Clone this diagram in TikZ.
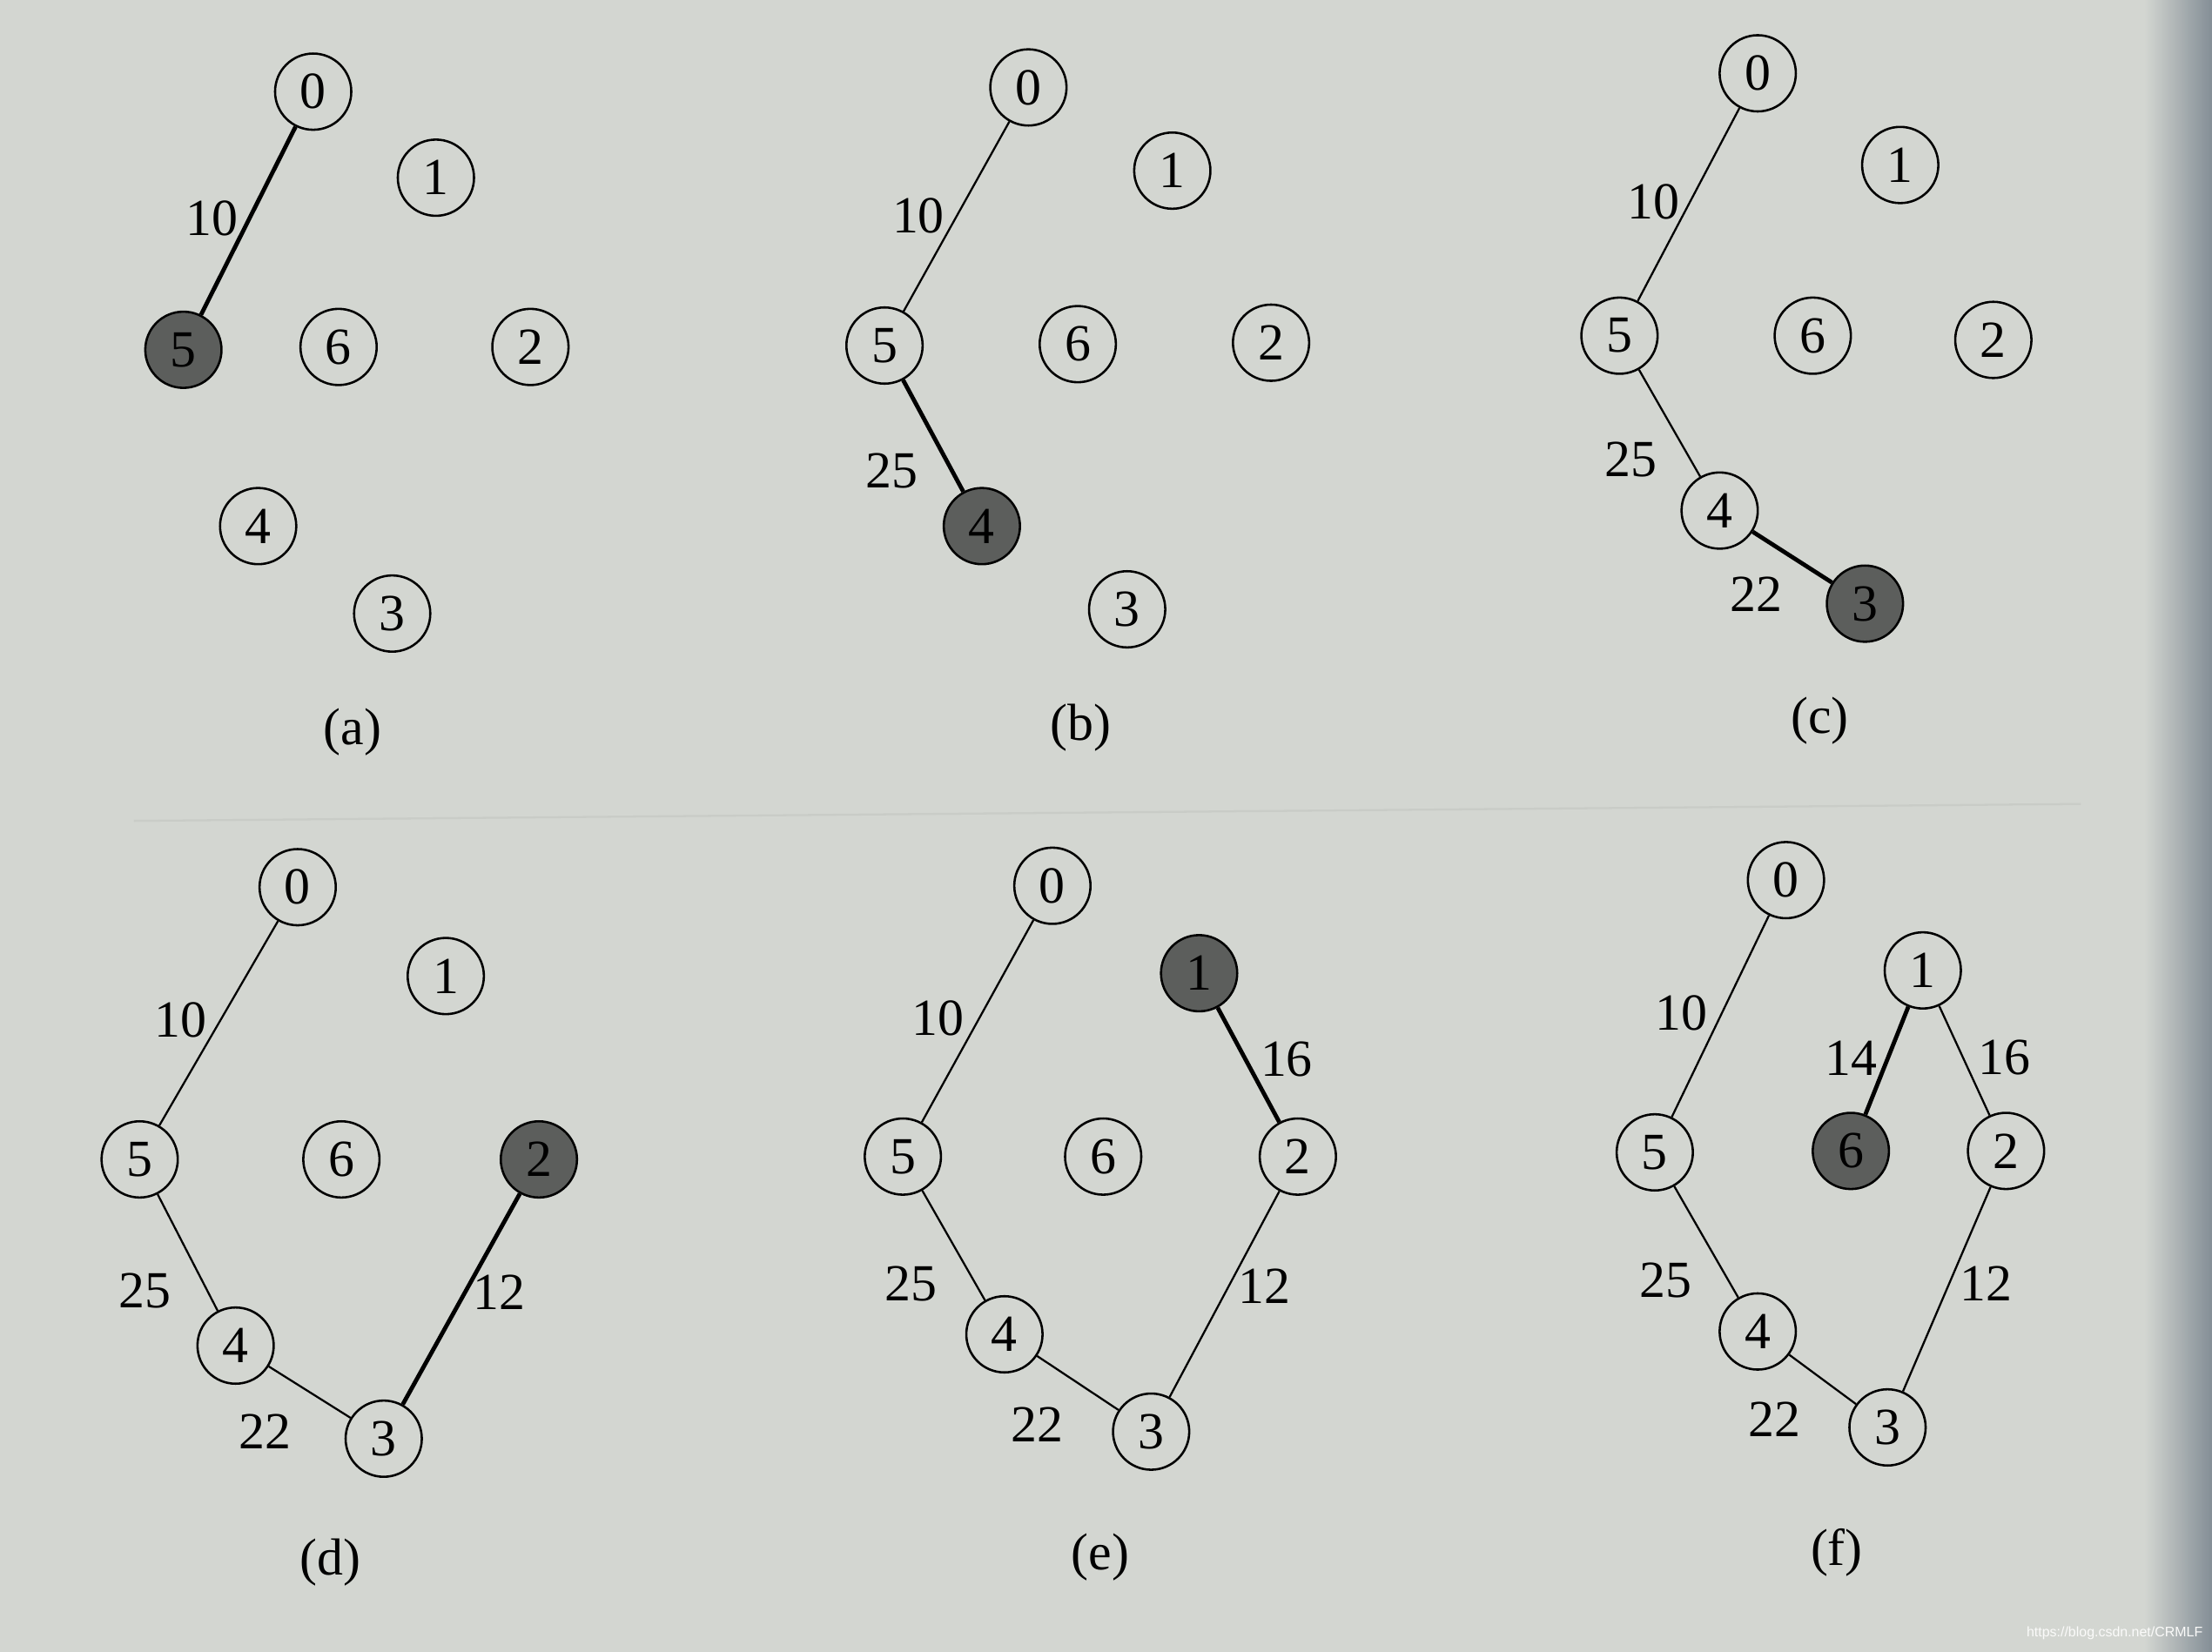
\documentclass[tikz,border=0pt]{standalone}
\usepackage{fontspec}
\setmainfont{Liberation Serif}
\newfontfamily\wmfont{Liberation Sans}
\definecolor{paper}{RGB}{211,214,209}
\definecolor{pageedge}{RGB}{132,142,150}
\definecolor{stipple}{RGB}{92,94,92}
\definecolor{bleed}{RGB}{201,204,199}
\begin{document}
\begin{tikzpicture}[x=0.01cm,y=-0.01cm,
		vtx/.style={circle,draw,line width=0.45pt,minimum size=0.54cm,inner sep=0pt,font=\fontsize{10.5}{12}\selectfont},
		cur/.style={vtx,fill=stipple},
		tedge/.style={line width=0.4pt},
		newedge/.style={line width=0.85pt},
		wt/.style={inner sep=0pt,font=\fontsize{10.5}{12}\selectfont},
		stepcap/.style={inner sep=0pt,font=\fontsize{10.5}{12}\selectfont}]
	% giay nen
	\fill[paper] (0,0) rectangle (1568,1171);
	\shade[left color=paper,right color=pageedge] (1520,0) rectangle (1568,1171);
	\useasboundingbox (0,0) rectangle (1568,1171);
	\draw[bleed,line width=0.4pt] (95,582) -- (1475,570);
	% (a)
	\node[vtx] (a0) at (222,65) {0};
	\node[vtx] (a1) at (309,126) {1};
	\node[vtx] (a2) at (376,246) {2};
	\node[vtx] (a3) at (278,435) {3};
	\node[vtx] (a4) at (183,373) {4};
	\node[cur] (a5) at (130,248) {5};
	\node[vtx] (a6) at (240,246) {6};
	\draw[newedge] (a0) -- (a5);
	\node[wt] (wa05) at (150,155) {10};
	\node[stepcap] (capa) at (250,519) {(a)};
	% (b)
	\node[vtx] (b0) at (729,62) {0};
	\node[vtx] (b1) at (831,121) {1};
	\node[vtx] (b2) at (901,243) {2};
	\node[vtx] (b3) at (799,432) {3};
	\node[cur] (b4) at (696,373) {4};
	\node[vtx] (b5) at (627,245) {5};
	\node[vtx] (b6) at (764,244) {6};
	\draw[tedge] (b0) -- (b5);
	\draw[newedge] (b5) -- (b4);
	\node[wt] (wb05) at (651,153) {10};
	\node[wt] (wb54) at (632,334) {25};
	\node[stepcap] (capb) at (766,516) {(b)};
	% (c)
	\node[vtx] (c0) at (1246,52) {0};
	\node[vtx] (c1) at (1347,117) {1};
	\node[vtx] (c2) at (1413,241) {2};
	\node[cur] (c3) at (1322,428) {3};
	\node[vtx] (c4) at (1219,362) {4};
	\node[vtx] (c5) at (1148,238) {5};
	\node[vtx] (c6) at (1285,238) {6};
	\draw[tedge] (c0) -- (c5);
	\draw[tedge] (c5) -- (c4);
	\draw[newedge] (c4) -- (c3);
	\node[wt] (wc05) at (1172,143) {10};
	\node[wt] (wc54) at (1156,326) {25};
	\node[wt] (wc43) at (1245,421) {22};
	\node[stepcap] (capc) at (1290,511) {(c)};
	% (d)
	\node[vtx] (d0) at (211,629) {0};
	\node[vtx] (d1) at (316,692) {1};
	\node[cur] (d2) at (382,822) {2};
	\node[vtx] (d3) at (272,1020) {3};
	\node[vtx] (d4) at (167,954) {4};
	\node[vtx] (d5) at (99,822) {5};
	\node[vtx] (d6) at (242,822) {6};
	\draw[tedge] (d0) -- (d5);
	\draw[tedge] (d5) -- (d4);
	\draw[tedge] (d4) -- (d3);
	\draw[newedge] (d3) -- (d2);
	\node[wt] (wd05) at (128,723) {10};
	\node[wt] (wd54) at (103,915) {25};
	\node[wt] (wd43) at (188,1015) {22};
	\node[wt] (wd32) at (354,916) {12};
	\node[stepcap] (capd) at (234,1108) {(d)};
	% (e)
	\node[vtx] (e0) at (746,628) {0};
	\node[cur] (e1) at (850,690) {1};
	\node[vtx] (e2) at (920,820) {2};
	\node[vtx] (e3) at (816,1015) {3};
	\node[vtx] (e4) at (712,946) {4};
	\node[vtx] (e5) at (640,820) {5};
	\node[vtx] (e6) at (782,820) {6};
	\draw[tedge] (e0) -- (e5);
	\draw[tedge] (e5) -- (e4);
	\draw[tedge] (e4) -- (e3);
	\draw[tedge] (e3) -- (e2);
	\draw[newedge] (e1) -- (e2);
	\node[wt] (we05) at (665,722) {10};
	\node[wt] (we54) at (646,910) {25};
	\node[wt] (we43) at (735,1010) {22};
	\node[wt] (we32) at (896,912) {12};
	\node[wt] (we12) at (912,751) {16};
	\node[stepcap] (cape) at (780,1104) {(e)};
	% (f)
	\node[vtx] (f0) at (1266,624) {0};
	\node[vtx] (f1) at (1363,688) {1};
	\node[vtx] (f2) at (1422,816) {2};
	\node[vtx] (f3) at (1338,1012) {3};
	\node[vtx] (f4) at (1246,944) {4};
	\node[vtx] (f5) at (1173,817) {5};
	\node[cur] (f6) at (1312,816) {6};
	\draw[tedge] (f0) -- (f5);
	\draw[tedge] (f5) -- (f4);
	\draw[tedge] (f4) -- (f3);
	\draw[tedge] (f3) -- (f2);
	\draw[tedge] (f1) -- (f2);
	\draw[newedge] (f1) -- (f6);
	\node[wt] (wf05) at (1192,718) {10};
	\node[wt] (wf54) at (1181,908) {25};
	\node[wt] (wf43) at (1258,1006) {22};
	\node[wt] (wf32) at (1408,910) {12};
	\node[wt] (wf16) at (1312,750) {14};
	\node[wt] (wf12) at (1421,750) {16};
	\node[stepcap] (capf) at (1302,1101) {(f)};
	% watermark
	\node[inner sep=0pt,text=white!90!paper,font=\wmfont\fontsize{2.8}{3.5}\selectfont] (wm) at (1499,1158) {https://blog.csdn.net/CRMLF};
\end{tikzpicture}
\end{document}
